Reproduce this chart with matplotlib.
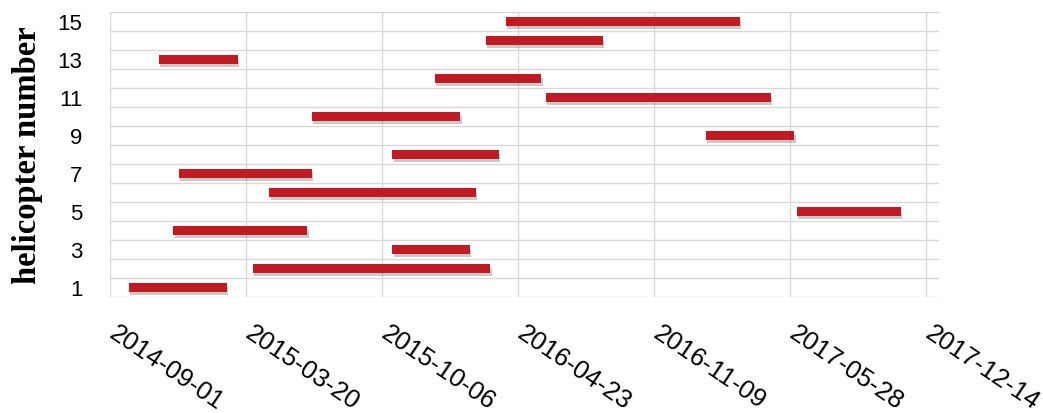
import pandas as pd
import numpy as np
import matplotlib
matplotlib.use('Agg')
import matplotlib.pyplot as plt
import matplotlib.patheffects as pe
import matplotlib.transforms as mtransforms

# service periods per helicopter
helicopters = list(range(1, 16))
start_dates = ['2014-09-29', '2015-03-30', '2015-10-21', '2014-12-03', '2017-06-07',
               '2015-04-23', '2014-12-11', '2015-10-21', '2017-01-24', '2015-06-25',
               '2016-06-03', '2015-12-23', '2014-11-12', '2016-03-07', '2016-04-05']
end_dates = ['2015-02-20', '2016-03-13', '2016-02-12', '2015-06-18', '2017-11-07',
             '2016-02-21', '2015-06-25', '2016-03-26', '2017-06-03', '2016-01-29',
             '2017-04-30', '2016-05-27', '2015-03-08', '2016-08-26', '2017-03-15']
tick_dates = ['2014-09-01', '2015-03-20', '2015-10-06', '2016-04-23',
              '2016-11-09', '2017-05-28', '2017-12-14']

origin = pd.Timestamp('2014-09-01')
start = np.array([(pd.Timestamp(d) - origin).days for d in start_dates])
end = np.array([(pd.Timestamp(d) - origin).days for d in end_dates])
ticks = [(pd.Timestamp(d) - origin).days for d in tick_dates]

fig = plt.figure(figsize=(10.43, 4.14), dpi=100, facecolor='white')
ax = fig.add_axes([0.1055, 0.2802, 0.7948, 0.6884])

bars = ax.barh(helicopters, end - start, left=start, height=0.45,
               color='#C21A22', edgecolor='none', zorder=3)
for b in bars:
    b.set_path_effects([pe.SimplePatchShadow(offset=(1, -2.5), shadow_rgbFace='#666666', alpha=0.35),
                        pe.Normal()])

ax.set_xlim(0, 1219)
ax.set_ylim(0.5, 15.5)

# slanted date labels, drawn by hand so they can sit right of each tick
ax.set_xticks(ticks)
ax.set_xticklabels([])
xtrans = ax.get_xaxis_transform() + mtransforms.ScaledTranslation(6 / 72, -17 / 72, fig.dpi_scale_trans)
for t, lab in zip(ticks, tick_dates):
    ax.text(t, 0, lab, transform=xtrans, rotation=-34, rotation_mode='anchor',
            ha='left', va='top', fontsize=18.5, family='Liberation Sans', clip_on=False)

ax.set_yticks(range(1, 16, 2))
ax.set_yticklabels([str(i) for i in range(1, 16, 2)], fontsize=16, family='Liberation Sans')
ax.set_yticks(np.arange(0.5, 16, 1), minor=True)

ax.tick_params(axis='x', length=0)
ax.tick_params(axis='y', which='both', length=0, pad=20)
ax.grid(True, axis='x', which='major', color='#D9D9D9', linewidth=1)
ax.grid(True, axis='y', which='minor', color='#D9D9D9', linewidth=1)
ax.set_axisbelow(True)
for s in ax.spines.values():
    s.set_visible(False)

ax.set_ylabel('helicopter number', family='Liberation Serif', fontweight='bold',
              fontsize=23.5, labelpad=10)

fig.savefig('out.png', dpi=100)
